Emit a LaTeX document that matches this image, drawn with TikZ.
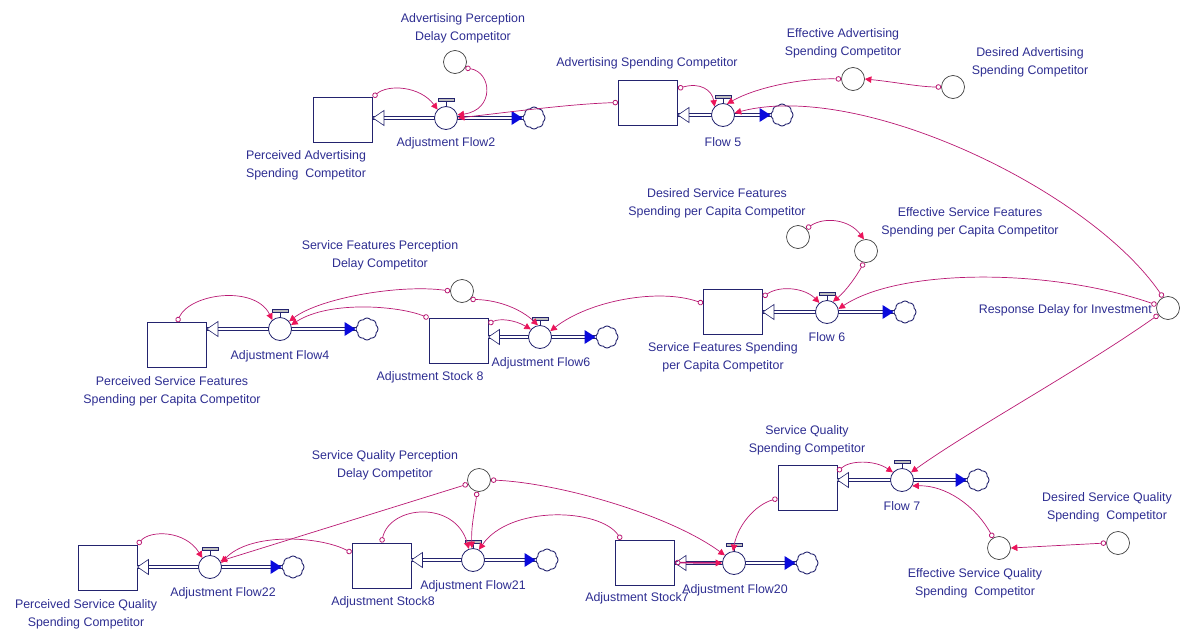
\documentclass[tikz,border=0pt]{standalone}
\usepackage{fontspec}
\newfontfamily\sdfont{Liberation Sans}
\usetikzlibrary{arrows.meta,shapes.symbols}
\definecolor{stockblue}{RGB}{35,35,110}
\definecolor{txtblue}{RGB}{45,45,145}
\definecolor{linkpink}{RGB}{185,25,115}
\definecolor{tippink}{RGB}{235,20,90}
\definecolor{flowblue}{RGB}{10,10,220}
\tikzset{
  stockbox/.style={draw=stockblue, line width=0.9pt, minimum width=59pt, minimum height=45pt, inner sep=0pt},
  auxvar/.style={circle, draw=black!75, line width=0.7pt, minimum size=23pt, inner sep=0pt},
  valvebody/.style={circle, draw=stockblue, fill=white, line width=0.8pt, minimum size=23pt, inner sep=0pt},
  sink/.style={cloud, cloud puffs=8, cloud puff arc=105, aspect=1, draw=stockblue, line width=0.9pt, minimum width=22pt, minimum height=22pt, inner sep=0pt},
  pipe/.style={draw=stockblue, line width=1pt, double=white, double distance=2.6pt},
  lbl/.style={font=\sdfont\fontsize{12.4}{18}\selectfont, text=txtblue, align=center, inner sep=0pt},
  link/.style={draw=linkpink, line width=0.7pt, {Circle[open,length=5.5pt,width=5.5pt,line width=0.8pt]}-{Triangle[length=6.5pt,width=6.5pt,color=tippink]}},
}
\newcommand{\sdvalve}[3]{%
  \draw[stockblue,line width=0.8pt] (#2,#3-11) -- (#2,#3-17);
  \draw[stockblue,fill=black!25,line width=0.6pt] (#2-8,#3-19.5) rectangle (#2+8,#3-16.5);
  \node[valvebody] (#1) at (#2,#3) {};}
\newcommand{\sdpipe}[2]{%
  \draw[pipe] (#1.east |- #2.center) -- (#2.west);
  \fill[flowblue] (#2.west) -- ++(-11,-7) -- ++(0,14) -- cycle;
  \draw[stockblue,fill=white,line width=0.6pt] (#1.east |- #2.center) -- ++(11,-7.5) -- ++(0,15) -- cycle;}

\begin{document}
\begin{tikzpicture}[x=1pt,y=-1pt]
\useasboundingbox (0,0) rectangle (1181,629);
% stocks
\node[stockbox] (pasc) at (343,120) {};
\node[stockbox] (asc) at (648,102.5) {};
\node[stockbox] (psfc) at (177,345) {};
\node[stockbox] (as8) at (458.5,341) {};
\node[stockbox] (sfsc) at (733,311.5) {};
\node[stockbox] (psqc) at (107.5,567.5) {};
\node[stockbox] (ast8) at (381.5,565.5) {};
\node[stockbox] (ast7) at (645,562.5) {};
\node[stockbox] (sqsc) at (807.5,487.5) {};
% sinks
\node[sink] (snk2) at (534,118) {};
\node[sink] (snk5) at (782,115) {};
\node[sink] (snk4) at (367,329) {};
\node[sink] (snk6) at (607,337) {};
\node[sink] (snkf6) at (905,312) {};
\node[sink] (snk22) at (293,567) {};
\node[sink] (snk21) at (547,560) {};
\node[sink] (snk20) at (807,563) {};
\node[sink] (snk7) at (978,480) {};
% pipes
\sdpipe{pasc}{snk2}\sdpipe{asc}{snk5}
\sdpipe{psfc}{snk4}\sdpipe{as8}{snk6}\sdpipe{sfsc}{snkf6}
\sdpipe{psqc}{snk22}\sdpipe{ast8}{snk21}\sdpipe{ast7}{snk20}\sdpipe{sqsc}{snk7}
% valves
\sdvalve{af2}{446}{118}\sdvalve{f5}{723}{115}
\sdvalve{af4}{280}{329}\sdvalve{af6}{540}{337}\sdvalve{f6}{827}{312}
\sdvalve{af22}{210}{567}\sdvalve{af21}{473}{560}\sdvalve{af20}{734}{563}\sdvalve{f7}{902}{480}
% auxiliaries
\node[auxvar] (apdc) at (455,62) {};
\node[auxvar] (easc) at (853,79) {};
\node[auxvar] (dasc) at (953,87) {};
\node[auxvar] (sfpd) at (462,291) {};
\node[auxvar] (dsfc) at (798,237) {};
\node[auxvar] (esfc) at (866,251) {};
\node[auxvar] (rdi) at (1168,308) {};
\node[auxvar] (sqpd) at (479,480) {};
\node[auxvar] (esqc) at (999,548) {};
\node[auxvar] (dsqc) at (1118,543) {};
% labels
\node[lbl] (pasc-l) at (306,165) {Perceived Advertising\\Spending\ \ Competitor};
\node[lbl] (af2-l) at (446,143) {Adjustment Flow2};
\node[lbl] (apdc-l) at (463,28) {Advertising Perception\\Delay Competitor};
\node[lbl] (asc-l) at (647,63) {Advertising Spending Competitor};
\node[lbl] (f5-l) at (723,142) {Flow 5};
\node[lbl] (easc-l) at (843,43.5) {Effective Advertising\\Spending Competitor};
\node[lbl] (dasc-l) at (1030,62) {Desired Advertising\\Spending Competitor};
\node[lbl] (psfc-l) at (172,391) {Perceived Service Features\\Spending per Capita Competitor};
\node[lbl] (af4-l) at (280,356) {Adjustment Flow4};
\node[lbl] (sfpd-l) at (380,255.5) {Service Features Perception\\Delay Competitor};
\node[lbl] (as8-l) at (430,377) {Adjustment Stock 8};
\node[lbl] (af6-l) at (541,363) {Adjustment Flow6};
\node[lbl] (sfsc-l) at (723,357.5) {Service Features Spending\\per Capita Competitor};
\node[lbl] (f6-l) at (827,337) {Flow 6};
\node[lbl] (dsfc-l) at (717,203.5) {Desired Service Features\\Spending per Capita Competitor};
\node[lbl] (esfc-l) at (970,222) {Effective Service Features\\Spending per Capita Competitor};
\node[lbl,anchor=east] (rdi-l) at (1152,310) {Response Delay for Investment};
\node[lbl] (psqc-l) at (86,614) {Perceived Service Quality\\Spending Competitor};
\node[lbl] (af22-l) at (223,593) {Adjustment Flow22};
\node[lbl] (ast8-l) at (383,602) {Adjustment Stock8};
\node[lbl] (af21-l) at (473,586) {Adjustment Flow21};
\node[lbl] (sqpd-l) at (385,465.5) {Service Quality Perception\\Delay Competitor};
\node[lbl] (ast7-l) at (637,598) {Adjustment Stock7};
\node[lbl] (af20-l) at (735,590) {Adjustment Flow20};
\node[lbl] (sqsc-l) at (807,440) {Service Quality\\Spending Competitor};
\node[lbl] (f7-l) at (902,506) {Flow 7};
\node[lbl] (esqc-l) at (975,583) {Effective Service Quality\\Spending\ \ Competitor};
\node[lbl] (dsqc-l) at (1107,507) {Desired Service Quality\\Spending\ \ Competitor};
% links
\draw[link] (pasc.north east) .. controls (388,84) and (420,86) .. (af2.135);
\draw[link] (apdc.-30) .. controls (492,72) and (495,110) .. (af2.15);
\draw[link] (asc.west) .. controls (570,104) and (510,112) .. (af2.east);
\draw[link] (asc.25) .. controls (700,82) and (712,90) .. (f5.135);
\draw[link] (easc.west) .. controls (800,78) and (755,88) .. (f5.70);
\draw[link] (dasc.west) .. controls (920,87) and (895,82) .. (easc.east);
\draw[link] (rdi.115) .. controls (1090,190) and (860,80) .. (f5.10);
\draw[link] (psfc.north) .. controls (190,293) and (255,285) .. (af4.130);
\draw[link] (sfpd.west) .. controls (400,284) and (320,298) .. (af4.40);
\draw[link] (as8.north west) .. controls (400,306) and (330,300) .. (af4.20);
\draw[link] (sfpd.-45) .. controls (500,300) and (522,310) .. (af6.100);
\draw[link] (as8.30) .. controls (500,318) and (515,320) .. (af6.140);
\draw[link] (sfsc.165) .. controls (660,288) and (590,300) .. (af6.30);
\draw[link] (sfsc.26) .. controls (780,285) and (805,288) .. (f6.130);
\draw[link] (dsfc.45) .. controls (825,216) and (850,220) .. (esfc.100);
\draw[link] (esfc.-100) .. controls (857,275) and (847,290) .. (f6.60);
\draw[link] (rdi.165) .. controls (1050,268) and (900,268) .. (f6.15);
\draw[link] (psqc.north east) .. controls (150,530) and (185,530) .. (af22.130);
\draw[link] (sqpd.200) -- (af22.30);
\draw[link] (ast8.157) .. controls (320,536) and (250,532) .. (af22.20);
\draw[link] (ast8.north) .. controls (390,505) and (455,500) .. (af21.110);
\draw[link] (sqpd.-100) .. controls (475,510) and (471,525) .. (af21.95);
\draw[link] (ast7.136) .. controls (600,508) and (510,505) .. (af21.60);
\draw[link] (sqpd.east) .. controls (560,483) and (670,515) .. (af20.140);
\draw[link] (sqsc.200) .. controls (755,505) and (738,525) .. (af20.95);
\draw[link,line width=1.6pt] (ast7.east) -- (af20.west);
\draw[link] (sqsc.28) .. controls (850,460) and (875,460) .. (f7.140);
\draw[link] (rdi.215) .. controls (1080,370) and (970,430) .. (f7.40);
\draw[link] (esqc.120) .. controls (975,505) and (945,485) .. (f7.-30);
\draw[link] (dsqc.west) -- (esqc.east);
\end{tikzpicture}
\end{document}
